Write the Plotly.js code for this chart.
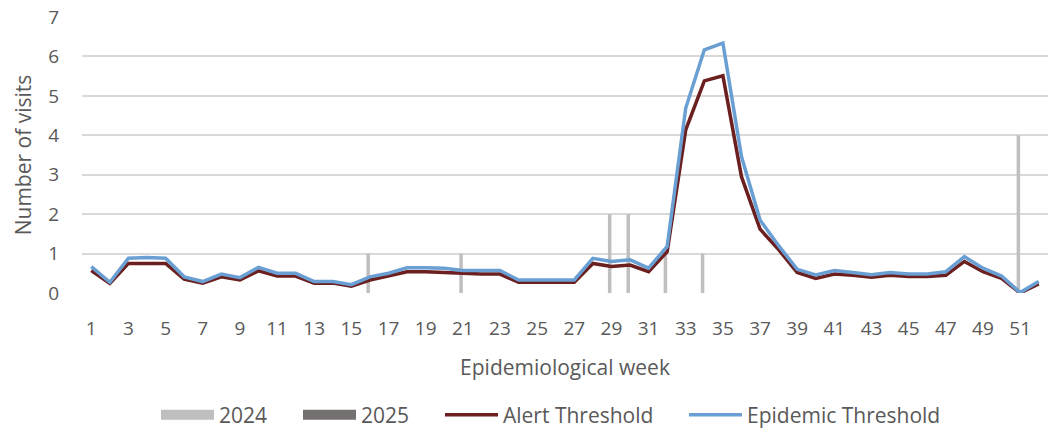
<!DOCTYPE html>
<html>
<head>
<meta charset="utf-8">
<script src="https://cdn.plot.ly/plotly-3.0.1.min.js"></script>
<style>html,body{margin:0;padding:0;background:#fff;}#chart{width:1056px;height:430px;}</style>
</head>
<body>
<div id="chart"></div>
<script>
const weeks = Array.from({length: 52}, (_, i) => i + 1);
const cases2024 = [0,0,0,0,0,0,0,0,0,0,0,0,0,0,0,1,0,0,0,0,1,0,0,0,0,0,0,0,2,2,0,1,0,1,0,0,0,0,0,0,0,0,0,0,0,0,0,0,0,0,4,0];
const cases2025 = [0,0,0,0,0,0,0,0,0,0,0,0,0,0,0,0,0,0,0,0,0,0,0,0,0,0,0,0,0,0,0,0,0,0,0,0,0,0,0,0,0,0,0,0,0,0,0,0,0,0,0,0];
const alertThreshold = [0.57,0.24,0.75,0.76,0.75,0.35,0.25,0.41,0.33,0.56,0.43,0.43,0.25,0.25,0.17,0.33,0.43,0.54,0.54,0.52,0.48,0.48,0.48,0.27,0.27,0.27,0.27,0.75,0.67,0.71,0.54,1.05,4.14,5.38,5.51,2.95,1.62,1.1,0.52,0.37,0.48,0.45,0.4,0.45,0.42,0.42,0.45,0.8,0.54,0.37,0.0,0.23];
const epidemicThreshold = [0.67,0.27,0.88,0.9,0.88,0.41,0.29,0.48,0.39,0.65,0.5,0.5,0.29,0.29,0.21,0.41,0.5,0.64,0.64,0.63,0.57,0.57,0.57,0.33,0.33,0.33,0.33,0.88,0.8,0.84,0.63,1.18,4.69,6.17,6.34,3.46,1.85,1.2,0.6,0.46,0.57,0.52,0.46,0.52,0.48,0.48,0.54,0.92,0.63,0.43,0.01,0.29];
const xTicks = [1,3,5,7,9,11,13,15,17,19,21,23,25,27,29,31,33,35,37,39,41,43,45,47,49,51];
const yTicks = [0,1,2,3,4,5,6,7];

const font = 'Open Sans, Liberation Sans, sans-serif';
const textColor = '#595959';
const c2024 = '#bfbfbf', c2025 = '#767171', cAlert = '#6b1f1f', cEpi = '#6a9fd3';

const traces = [
  {type:'bar', x:weeks, y:cases2024, name:'2024', marker:{color:c2024}, showlegend:false},
  {type:'bar', x:weeks, y:cases2025, name:'2025', marker:{color:c2025}, showlegend:false},
  {type:'scatter', mode:'lines', x:[null], y:[null], name:'2024', line:{color:c2024, width:14}, legend:'legend'},
  {type:'scatter', mode:'lines', x:[null], y:[null], name:'2025', line:{color:c2025, width:14}, legend:'legend2'},
  {type:'scatter', mode:'lines', x:weeks, y:alertThreshold, name:'Alert Threshold', line:{color:cAlert, width:3.5}, legend:'legend3'},
  {type:'scatter', mode:'lines', x:weeks, y:epidemicThreshold, name:'Epidemic Threshold', line:{color:cEpi, width:3.5}, legend:'legend4'}
];

function leg(px) {
  return {orientation:'h', xref:'container', yref:'container', x:px/1056, xanchor:'left', y:15/430, yanchor:'middle',
    font:{size:21, color:textColor}, bgcolor:'rgba(0,0,0,0)', borderwidth:0, itemwidth:53};
}

const layout = {
  width:1056, height:430,
  margin:{l:82, r:8, t:17, b:137},
  paper_bgcolor:'#fff', plot_bgcolor:'#fff',
  font:{family:font, color:textColor, size:19},
  barmode:'group', bargap:0.62, bargroupgap:0,
  xaxis:{
    range:[0.5,52.5], tickvals:xTicks, ticktext:xTicks.map(String),
    showgrid:false, zeroline:false, showline:false, automargin:false,
    ticks:'', ticklabelstandoff:22,
    tickfont:{size:19, color:textColor},
    title:{text:'Epidemiological week', font:{size:21, color:textColor}, standoff:20}
  },
  yaxis:{
    range:[0,7], tickvals:yTicks, showgrid:true, gridcolor:'#d9d9d9', gridwidth:2,
    zeroline:false, showline:false, automargin:false,
    ticks:'', ticklabelstandoff:22,
    tickfont:{size:19, color:textColor},
    title:{text:'Number of visits', font:{size:21, color:textColor}, standoff:10}
  },
  showlegend:true,
  legend:leg(156), legend2:leg(298), legend3:leg(440), legend4:leg(684)
};

Plotly.newPlot('chart', traces, layout, {displayModeBar:false, staticPlot:true});
</script>
</body>
</html>
